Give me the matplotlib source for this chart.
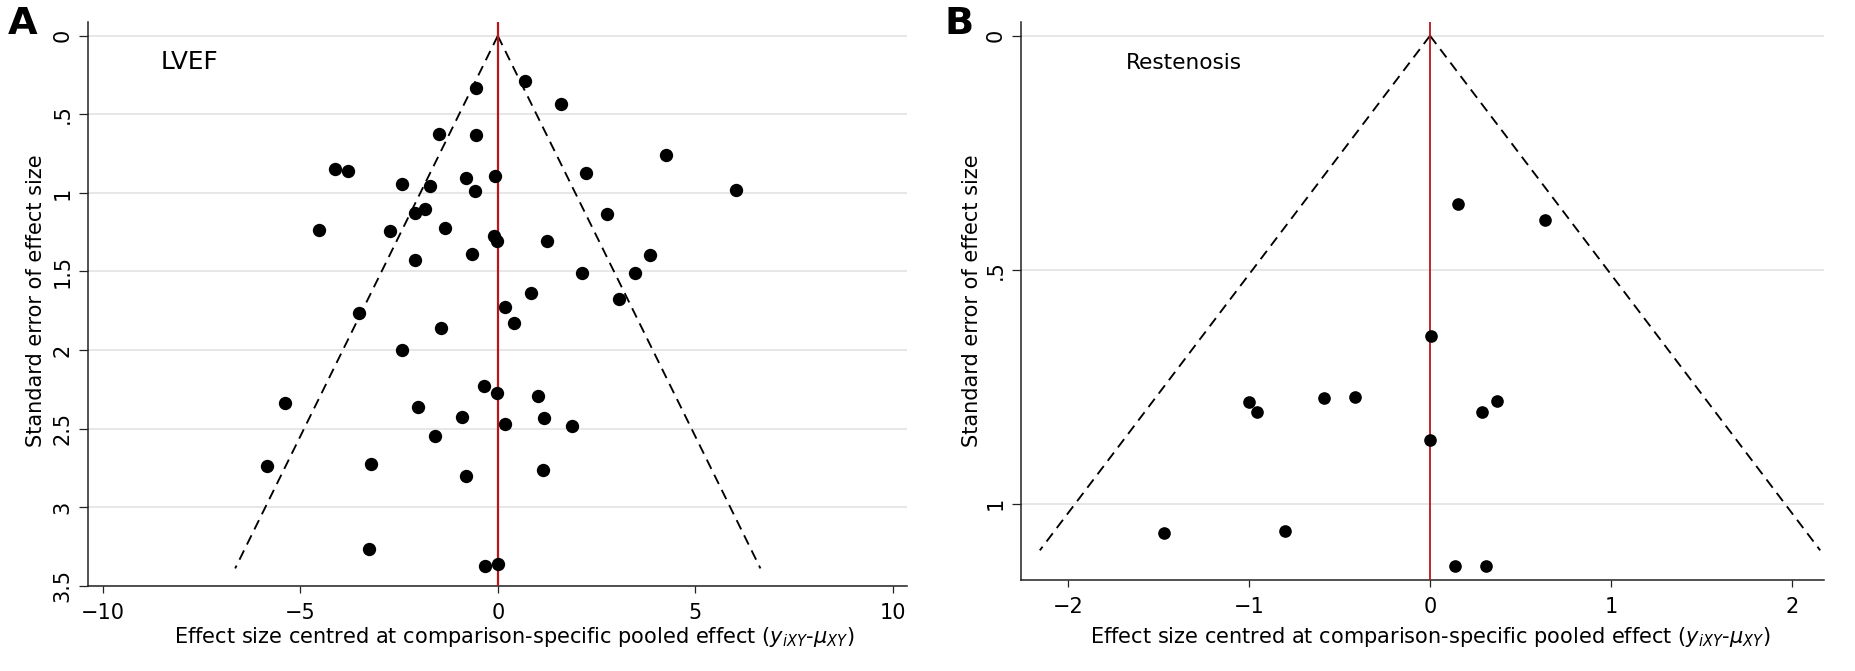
import matplotlib
matplotlib.use("Agg")
import matplotlib.pyplot as plt
import numpy as np

# ---------------- data ----------------
lvef_effect = [-4.12, -3.78, -2.42, -4.52, -2.73, -2.09, -2.09, -3.51, -0.55, 0.70,
               1.59, -1.49, -0.56, 4.25, -1.71, -0.81, -0.07, 2.22, -0.58, 6.03,
               -1.84, 2.76, -1.34, -0.09, -0.01, 1.24, -0.65, 3.84, 3.46, 2.13,
               0.84, 3.06, 0.17, 0.41, -1.44, -2.43, -5.38, -2.01, -5.85, -3.21,
               -3.26, -0.34, -0.01, 1.02, -0.90, 1.17, 0.18, 1.88, -1.60, -0.81,
               1.15, -0.32, 0.00]
lvef_se = [0.845, 0.862, 0.940, 1.237, 1.244, 1.125, 1.429, 1.764, 0.331, 0.287,
           0.437, 0.622, 0.630, 0.760, 0.953, 0.902, 0.889, 0.872, 0.989, 0.983,
           1.100, 1.134, 1.223, 1.276, 1.306, 1.308, 1.389, 1.397, 1.510, 1.510,
           1.637, 1.677, 1.726, 1.826, 1.857, 1.997, 2.335, 2.363, 2.741, 2.724,
           3.265, 2.229, 2.274, 2.293, 2.427, 2.433, 2.469, 2.486, 2.548, 2.803,
           2.762, 3.373, 3.365]

rest_effect = [0.156, 0.635, 0.006, -1.00, -0.955, -0.585, -1.47, -0.80, -0.415, 0.287,
               0.369, 0.00, 0.139, 0.307]
rest_se = [0.360, 0.393, 0.642, 0.783, 0.805, 0.775, 1.063, 1.058, 0.773, 0.805,
           0.781, 0.864, 1.133, 1.133]

funnel_depth = [3.39, 1.10]          # SE at which the pseudo 95% limits stop
z_crit = 1.96

lvef_xticks = [-10, -5, 0, 5, 10]
lvef_yticks = [0, 0.5, 1, 1.5, 2, 2.5, 3, 3.5]
lvef_yticklabels = ["0", ".5", "1", "1.5", "2", "2.5", "3", "3.5"]
rest_xticks = [-2, -1, 0, 1, 2]
rest_yticks = [0, 0.5, 1]
rest_yticklabels = ["0", ".5", "1"]

panel_letters = ["A", "B"]
outcomes = ["LVEF", "Restenosis"]

# ---------------- style ----------------
plt.rcParams['font.family'] = ['DejaVu Sans']
plt.rcParams['mathtext.fontset'] = 'dejavusans'

W, H = 1856, 671
fig = plt.figure(figsize=(W / 100, H / 100), dpi=100)

def px_axes(left, right, top, bottom):
    return fig.add_axes([left / W, 1 - bottom / H, (right - left) / W,
                         (bottom - top) / H])

axA = px_axes(88.3, 906.5, 21.7, 585.7)
axB = px_axes(1021, 1824, 21.7, 580.3)

xlabel = r"Effect size centred at comparison-specific pooled effect ($y_{iXY}$-$\mu_{XY}$)"
ylabel = "Standard error of effect size"
LAB = 15
TICK = 15

def style(ax, xticks, yticks, yticklabels, xlim, ylim, msize, red_lw,
          effect, se, depth, txt, txt_pos, txt_size):
    ax.set_xlim(*xlim)
    ax.set_ylim(*ylim)
    for s in ['top', 'right']:
        ax.spines[s].set_visible(False)
    for s in ['left', 'bottom']:
        ax.spines[s].set_color('#222222')
        ax.spines[s].set_linewidth(1.1)
    ax.set_xticks(xticks)
    ax.set_yticks(yticks)
    ax.set_yticklabels(yticklabels, rotation=90, va='center')
    ax.tick_params(axis='both', width=0.9, color='#222222', labelsize=TICK)
    ax.tick_params(axis='y', length=6.7, pad=4.5)
    ax.tick_params(axis='x', length=5.2, pad=7)
    for yv in yticks:
        ax.axhline(yv, color='#e3e3e3', lw=1.2, zorder=0)
    se_line = np.array([0.0, depth])
    ax.plot(-z_crit * se_line, se_line, color='black', lw=1.35,
            linestyle=(0, (5.5, 3.5)), zorder=2)
    ax.plot(z_crit * se_line, se_line, color='black', lw=1.35,
            linestyle=(0, (5.5, 3.5)), zorder=2)
    ax.axvline(0, color='#b8151d', lw=red_lw, zorder=3)
    ax.plot(effect, se, 'o', color='black', markersize=msize, zorder=4,
            markeredgewidth=0)
    ax.text(txt_pos[0], txt_pos[1], txt, fontsize=txt_size, ha='left',
            va='center')
    ax.set_xlabel(xlabel, fontsize=LAB, va='baseline')
    ax.set_ylabel(ylabel, fontsize=LAB, va='center')

style(axA, lvef_xticks, lvef_yticks, lvef_yticklabels, (-10.36, 10.34),
      (3.5, -0.09), 9.6, 1.6, lvef_effect, lvef_se, funnel_depth[0],
      outcomes[0], (-8.52, 0.168), 17.8)
style(axB, rest_xticks, rest_yticks, rest_yticklabels, (-2.26, 2.177),
      (1.164, -0.03), 9.1, 1.3, rest_effect, rest_se, funnel_depth[1],
      outcomes[1], (-1.68, 0.059), 15.6)

# label positions (measured in reference pixels)
def place_labels(ax, xcen_px, base_px, ycen_px_x, ycen_px_y):
    x0, y0, w, h = ax.get_position().bounds
    left, right = x0 * W, (x0 + w) * W
    top, bot = H - (y0 + h) * H, H - y0 * H
    ax.xaxis.set_label_coords((xcen_px - left) / (right - left),
                              (bot - base_px) / (bot - top))
    ax.yaxis.set_label_coords((ycen_px_x - left) / (right - left),
                              (bot - ycen_px_y) / (bot - top))

place_labels(axA, 514, 643, 36, 301)
place_labels(axB, 1430, 643, 972, 301)

fig.text(23 / W, 1 - 24 / H, panel_letters[0], fontsize=27.5,
         fontweight='bold', ha='center', va='center')
fig.text(959 / W, 1 - 24 / H, panel_letters[1], fontsize=27.5,
         fontweight='bold', ha='center', va='center')

fig.savefig("out.png", dpi=100)
